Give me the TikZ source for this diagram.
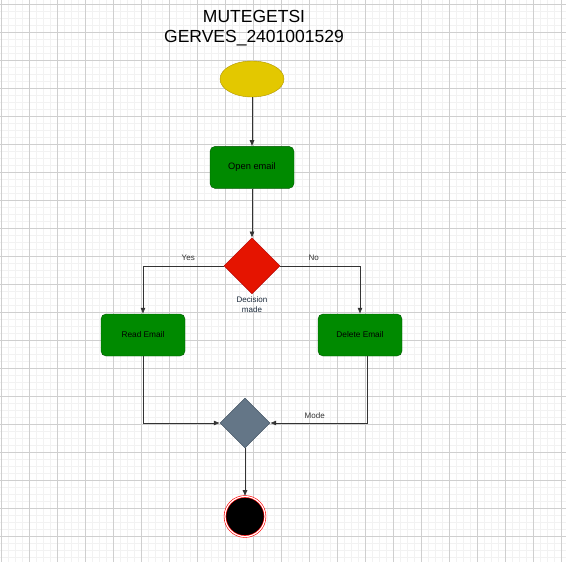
\documentclass[tikz,border=0pt]{standalone}
\usepackage{fontspec}
\setmainfont{Liberation Sans}
\usetikzlibrary{arrows.meta, positioning, shapes.geometric}
\definecolor{flowyellow}{HTML}{E3C800}
\definecolor{flowyellowdk}{HTML}{B09500}
\definecolor{flowgreen}{HTML}{008A00}
\definecolor{flowgreendk}{HTML}{005700}
\definecolor{flowred}{HTML}{E51400}
\definecolor{flowreddk}{HTML}{B20000}
\definecolor{flowslate}{HTML}{647687}
\definecolor{flowslatedk}{HTML}{314354}
\definecolor{flowink}{HTML}{333333}
\definecolor{flowlabel}{HTML}{1C2B3C}

\begin{document}
\begin{tikzpicture}[
      x=1pt, y=-1pt,
      gridmajor/.style={draw=black!19, line width=0.9pt},
      gridminor/.style={draw=black!5, line width=0.9pt},
      action/.style={
        rectangle,
        rounded corners=5pt,
        minimum width=84pt,
        minimum height=42pt,
        align=center,
        fill=flowgreen,
        draw=flowgreendk,
        font=\fontsize{8.3}{10}\selectfont
      },
      decide/.style={
        diamond,
        aspect=1,
        inner sep=0pt
      },
      arr/.style={-{Latex[length=6pt, width=5pt]}, line width=0.6pt, flowink},
      note/.style={font=\fontsize{8}{10}\selectfont\color{flowlabel}, align=center}
    ]
      \useasboundingbox (0,0) rectangle (566,562);
      \fill[white] (0,0) rectangle (566,562);

      % background grid
      \foreach \gx in {1,8,...,566} \draw[gridminor] (\gx,0) -- (\gx,562);
      \foreach \gy in {4,11,...,562} \draw[gridminor] (0,\gy) -- (566,\gy);
      \foreach \gx in {1,29,...,566} \draw[gridmajor] (\gx,0) -- (\gx,562);
      \foreach \gy in {4,32,...,562} \draw[gridmajor] (0,\gy) -- (566,\gy);

      \node[align=center, font=\fontsize{17.5}{20}\selectfont] (title) at (254,28)
        {MUTEGETSI\\GERVES\_2401001529};

      \node[ellipse, minimum width=64pt, minimum height=36pt, inner sep=0pt,
        fill=flowyellow, draw=flowyellowdk] (start) at (252,79) {};
      \node[action, below=49pt of start, font=\fontsize{9.3}{11}\selectfont]
        (open) {Open email};
      \node[decide, minimum size=56pt, fill=flowred, draw=flowreddk,
        below=49pt of open] (dec) {};
      \node[note, below=-1pt of dec] (decnote) {Decision\\made};

      \node[action] (read) at (143,335) {Read Email};
      \node[action] (delete) at (360,335) {Delete Email};

      \node[decide, minimum size=50pt, fill=flowslate, draw=flowslatedk]
        (merge) at (245,423) {};
      \node[circle, minimum size=40pt, inner sep=0pt, fill=black, draw=red,
        double=white, double distance=1.2pt, line width=0.6pt,
        below=48pt of merge] (finish) {};

      \draw[arr] (start) -- (open);
      \draw[arr] (open) -- (dec);
      \draw[arr] (dec.west) -| node[note, pos=0.22, above=2pt] {Yes} (read.north);
      \draw[arr] (dec.east) -| node[note, pos=0.21, above=2pt] {No} (delete.north);

      \coordinate (delout) at ([xshift=7pt]delete.south);
      \draw[arr] (read.south) |- (merge.west);
      \draw[arr] (delout) |- node[note, pos=0.77, above=1pt] {Mode} (merge.east);
      \draw[arr] (merge) -- (finish);
    \end{tikzpicture}
\end{document}
